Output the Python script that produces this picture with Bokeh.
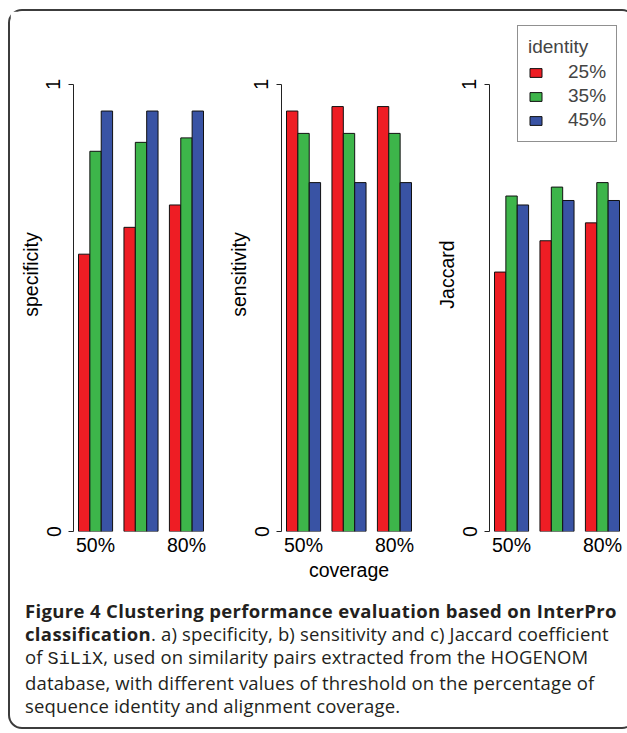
from bokeh.plotting import figure
from bokeh.models import Range1d, FixedTicker, Legend, LegendItem, Div, Column, Row
from bokeh.embed import file_html
from bokeh.resources import INLINE

# ---- data ----
coverage_labels = ["50%", "", "80%"]
identity_labels = ["25%", "35%", "45%"]
metric_names = ["specificity", "sensitivity", "Jaccard"]

specificity_25 = [0.62, 0.68, 0.73]
specificity_35 = [0.85, 0.87, 0.88]
specificity_45 = [0.94, 0.94, 0.94]

sensitivity_25 = [0.94, 0.95, 0.95]
sensitivity_35 = [0.89, 0.89, 0.89]
sensitivity_45 = [0.78, 0.78, 0.78]

jaccard_25 = [0.58, 0.65, 0.69]
jaccard_35 = [0.75, 0.77, 0.78]
jaccard_45 = [0.73, 0.74, 0.74]

colors = ["#EE1D24", "#3DB54A", "#3953A4"]

FONT = "Liberation Sans"
FS = "19.5px"
FRAME_W = 135
FRAME_H = 514
Y_PX = 447.3          # pixels per unit of y


def make_panel(series, name, right_border, xlabel=None, legend=False):
    n_groups = len(series[0])
    n_bars = len(series)
    span = n_groups * (n_bars + 1) - 1
    x_lo = 1 - 0.04 * span
    x_hi = n_groups * (n_bars + 1) + 0.04 * span
    p = figure(frame_width=FRAME_W, frame_height=FRAME_H,
               x_range=Range1d(x_lo, x_hi),
               y_range=Range1d(0, FRAME_H / Y_PX),
               output_backend="svg", toolbar_location=None,
               min_border_left=63, min_border_right=right_border,
               min_border_top=6, min_border_bottom=56)
    p.outline_line_color = None
    p.xgrid.visible = False
    p.ygrid.visible = False
    p.background_fill_color = "white"
    p.border_fill_color = "white"

    renderers = []
    for b, vals in enumerate(series):
        xs = [1 + (n_bars + 1) * g + b + 0.5 for g in range(n_groups)]
        r = p.vbar(x=xs, top=vals, bottom=0, width=1,
                   fill_color=colors[b], line_color="#111111", line_width=1)
        renderers.append(r)

    # y axis in R style
    ya = p.yaxis[0]
    ya.bounds = (0, 1)
    ya.ticker = FixedTicker(ticks=[0, 1])
    ya.major_label_orientation = "parallel"
    ya.major_tick_out = 5
    ya.major_tick_in = 0
    ya.minor_tick_line_color = None
    ya.axis_line_color = "#222222"
    ya.major_tick_line_color = "#222222"
    ya.major_label_text_font = FONT
    ya.major_label_text_font_size = FS
    ya.major_label_text_color = "black"
    ya.major_label_standoff = 8
    ya.axis_label = name
    ya.axis_label_text_font = FONT
    ya.axis_label_text_font_size = FS
    ya.axis_label_text_font_style = "normal"
    ya.axis_label_text_color = "black"
    ya.axis_label_standoff = 2

    # x axis: only labels
    centers = [1 + (n_bars + 1) * g + (n_bars / 2) for g in range(n_groups)]
    xa = p.xaxis[0]
    xa.ticker = FixedTicker(ticks=centers)
    xa.major_label_overrides = {c: lab for c, lab in zip(centers, coverage_labels)}
    xa.axis_line_color = None
    xa.major_tick_line_color = None
    xa.major_tick_out = 0
    xa.major_tick_in = 0
    xa.minor_tick_line_color = None
    xa.major_label_text_font = FONT
    xa.major_label_text_font_size = FS
    xa.major_label_text_color = "black"
    xa.major_label_standoff = 2
    if xlabel:
        xa.axis_label = xlabel
        xa.axis_label_text_font = FONT
        xa.axis_label_text_font_size = FS
        xa.axis_label_text_font_style = "normal"
        xa.axis_label_text_color = "black"
        xa.axis_label_standoff = 0

    if legend:
        lg = Legend(items=[LegendItem(label=l, renderers=[r])
                           for l, r in zip(identity_labels, renderers)],
                    location=(28, 389), title="identity",
                    glyph_width=15, glyph_height=11, label_standoff=25,
                    padding=10, spacing=2, label_height=21, margin=0,
                    label_text_font=FONT, label_text_font_size="19px",
                    title_text_font=FONT, title_text_font_size="19px",
                    title_text_font_style="normal", title_standoff=3,
                    border_line_color="#222222", border_line_width=1,
                    background_fill_color="white", background_fill_alpha=1)
        p.add_layout(lg)
    return p


p1 = make_panel([specificity_25, specificity_35, specificity_45], metric_names[0], 10)
p2 = make_panel([sensitivity_25, sensitivity_35, sensitivity_45], metric_names[1], 10, xlabel="coverage")
p3 = make_panel([jaccard_25, jaccard_35, jaccard_45], metric_names[2], 0, legend=True)

caption_html = (
    "<b style=\"letter-spacing:0.35px\">Figure 4 Clustering performance evaluation based on InterPro<br>"
    "classification</b>. a) specificity, b) sensitivity and c) Jaccard coefficient<br>"
    "of <span style=\"font-family:'Liberation Mono',monospace;letter-spacing:0\">SiLiX</span>, used on similarity pairs extracted from the HOGENOM<br>"
    "database, with different values of threshold on the percentage of<br>"
    "sequence identity and alignment coverage."
)
caption = Div(text=caption_html, width=614, height=130,
              styles={"font-family": "'Open Sans', sans-serif", "font-size": "18.5px",
                      "letter-spacing": "0.15px",
                      "line-height": "23px", "padding": "7px 0 0 10px",
                      "color": "#231F20", "white-space": "nowrap",
                      "box-sizing": "border-box"})

layout = Column(children=[Row(children=[p1, p2, p3]), caption],
                styles={"border": "2px solid #3c3c3c", "border-radius": "14px",
                        "margin-left": "8px", "margin-top": "9px"})

open("out.html", "w").write(file_html(layout, INLINE))
